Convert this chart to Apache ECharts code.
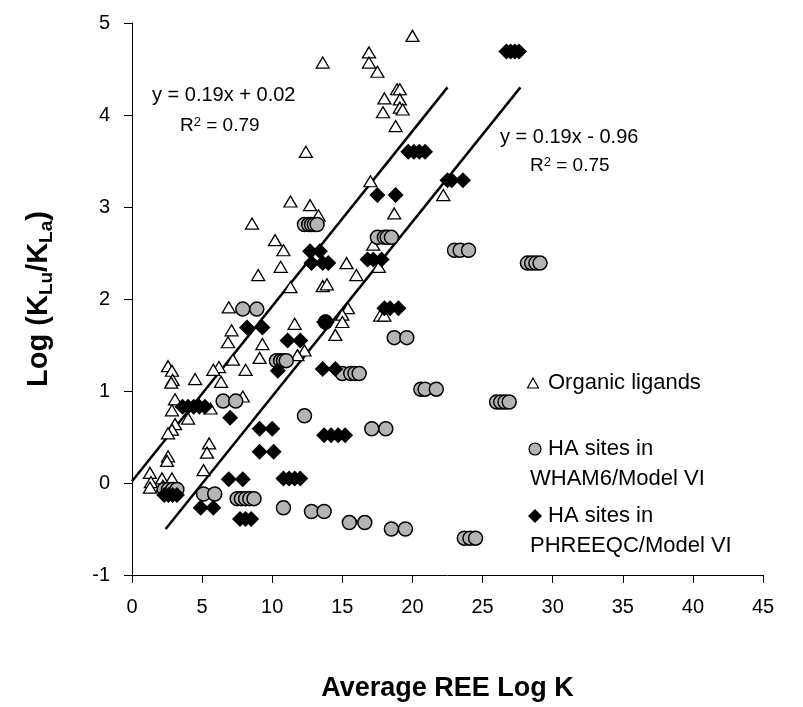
<!DOCTYPE html>
<html><head><meta charset="utf-8">
<script src="https://cdn.jsdelivr.net/npm/echarts@6/dist/echarts.min.js"></script>
<style>html,body{margin:0;padding:0;background:#fff}#c{width:803px;height:707px}</style>
</head><body><div id="c"></div>
<script>
// [Average REE Log K, Log(KLu/KLa)]
const organicLigands = [
  [20.0,4.86],[16.9,4.68],[16.9,4.57],[17.5,4.47],[13.6,4.57],[18.9,4.28],[19.1,4.28],[18.0,4.18],[19.1,4.17],[17.9,4.03],[19.1,4.08],[19.3,4.06],[18.8,3.88],[12.4,3.60],[17.0,3.28],[22.2,3.13],
  [12.7,3.02],[13.3,2.91],[18.7,2.93],[17.2,2.59],[15.3,2.39],[16.0,2.26],[17.6,2.35],[13.6,2.14],[13.9,2.16],[15.4,1.90],[15.0,1.83],[17.7,1.82],[18.0,1.82],[15.0,1.75],[14.5,1.61],[12.3,1.44],
  [11.3,3.06],[8.56,2.82],[10.2,2.64],[10.8,2.53],[10.6,2.35],[9.0,2.26],[11.3,2.13],[6.9,1.91],[7.1,1.66],[6.85,1.53],[9.3,1.51],[11.6,1.73],
  [9.1,1.36],[7.2,1.34],[6.2,1.26],[5.8,1.23],[8.1,1.23],[6.35,1.10],[7.9,0.94],[5.6,0.81],[11.8,1.39],[5.5,0.43],[5.35,0.33],[5.1,0.14],
  [2.57,1.27],[2.85,1.22],[2.9,1.12],[2.8,1.09],[4.5,1.13],[3.07,0.91],[2.85,0.79],[4.0,0.70],[3.07,0.64],[2.85,0.58],[2.57,0.54],[2.57,0.29],[2.5,0.24],[1.28,0.11],[2.14,0.05],[2.85,0.05],[1.35,0.01],[1.28,-0.05],[2.2,-0.03]
];
const whamSites = [
  [2.3,-0.07],[2.6,-0.07],[2.9,-0.07],[3.2,-0.07],[5.1,-0.12],[5.9,-0.12],
  [7.5,-0.17],[7.8,-0.17],[8.1,-0.17],[8.4,-0.17],[8.7,-0.17],[10.8,-0.27],[12.8,-0.31],[13.7,-0.31],
  [15.5,-0.43],[16.6,-0.43],[18.5,-0.50],[19.5,-0.50],[23.7,-0.60],[24.1,-0.60],[24.5,-0.60],
  [6.5,0.89],[7.4,0.89],[12.3,0.73],[17.1,0.59],[18.1,0.59],
  [15.0,1.19],[15.6,1.19],[15.9,1.19],[16.2,1.19],[20.6,1.02],[20.9,1.02],[21.7,1.02],
  [26.0,0.88],[26.3,0.88],[26.6,0.88],[26.9,0.88],[10.3,1.33],[10.6,1.33],[10.8,1.33],[11.0,1.33],
  [18.7,1.58],[19.6,1.58],[13.8,1.75],[7.9,1.89],[8.9,1.89],
  [17.5,2.67],[18.0,2.67],[18.2,2.67],[18.5,2.67],[12.3,2.81],[12.6,2.81],[12.8,2.81],[13.0,2.81],[13.2,2.81],
  [23.0,2.53],[23.4,2.53],[24.0,2.53],[28.2,2.39],[28.5,2.39],[28.8,2.39],[29.1,2.39]
];
const phreeqcSites = [
  [26.7,4.69],[27.0,4.69],[27.3,4.69],[27.6,4.69],[19.7,3.60],[20.1,3.60],[20.5,3.60],[20.9,3.60],
  [17.5,3.13],[18.8,3.13],[22.5,3.29],[22.8,3.29],[23.6,3.29],
  [12.7,2.52],[13.4,2.52],[12.8,2.39],[13.6,2.39],[14.0,2.39],[16.8,2.43],[17.2,2.43],[17.8,2.43],
  [18.0,1.90],[18.4,1.90],[19.0,1.90],[8.2,1.69],[9.3,1.69],[11.1,1.55],[12.0,1.55],[13.7,1.75],[13.9,1.75],
  [10.4,1.22],[13.6,1.24],[14.5,1.24],[3.6,0.83],[4.0,0.83],[4.4,0.83],[4.8,0.83],[5.2,0.83],[7.0,0.71],
  [9.1,0.59],[10.0,0.59],[9.1,0.34],[10.1,0.34],[13.7,0.52],[14.2,0.52],[14.7,0.52],[15.2,0.52],
  [6.9,0.04],[7.9,0.04],[10.8,0.05],[11.2,0.05],[11.6,0.05],[12.0,0.05],
  [2.3,-0.13],[2.6,-0.13],[2.9,-0.13],[3.2,-0.13],[4.9,-0.27],[5.8,-0.27],[7.7,-0.39],[8.1,-0.39],[8.5,-0.39]
];
const fitOrganic = [[0,0.02],[22.5,4.30]];
const fitHA = [[2.4,-0.50],[27.7,4.30]];
const xTicks = [0,45,5];
const yTicks = [-1,5,1];

const FONT = 'Arial, "Liberation Sans", sans-serif';
const chart = echarts.init(document.getElementById('c'), null, {renderer:'canvas'});
const txt = (x,y,t,size,extra)=>Object.assign({type:'text',left:x,top:y,style:Object.assign({text:t,font:size+'px '+FONT,fill:'#000'},extra||{})});
chart.setOption({
  animation:false,
  backgroundColor:'#fff',
  grid:{left:132,right:40,top:23,bottom:127},
  xAxis:{type:'value',min:xTicks[0],max:xTicks[1],interval:xTicks[2],
    axisLine:{onZero:false,lineStyle:{color:'#000',width:1}},axisTick:{inside:false,length:8,lineStyle:{color:'#000'}},
    splitLine:{show:false},axisLabel:{color:'#000',fontSize:20,fontFamily:FONT,margin:22},
    name:'Average REE Log K',nameLocation:'middle',nameGap:100,
    nameTextStyle:{color:'#000',fontSize:27,fontWeight:'bold',fontFamily:FONT}},
  yAxis:{type:'value',min:yTicks[0],max:yTicks[1],interval:yTicks[2],
    axisLine:{show:true,onZero:false,lineStyle:{color:'#000',width:1}},axisTick:{show:true,inside:false,length:8,lineStyle:{color:'#000'}},
    splitLine:{show:false},axisLabel:{color:'#000',fontSize:20,fontFamily:FONT,margin:22},
    name:'{a|Log (K}{s|Lu}{a|/K}{s|La}{a|)}',nameLocation:'middle',nameGap:76,nameRotate:90,
    nameTextStyle:{rich:{
      a:{fontSize:29,fontWeight:'bold',fontFamily:FONT,color:'#000',lineHeight:34},
      s:{fontSize:19,fontWeight:'bold',fontFamily:FONT,color:'#000',verticalAlign:'bottom',lineHeight:15}}}},
  series:[
    {type:'line',data:fitOrganic,symbol:'none',lineStyle:{color:'#000',width:2.5},z:1},
    {type:'line',data:fitHA,symbol:'none',lineStyle:{color:'#000',width:2.5},z:1},
    {type:'scatter',name:'Organic ligands',data:organicLigands,symbol:'triangle',symbolSize:[13,11],
      itemStyle:{color:'#fff',borderColor:'#000',borderWidth:1.3,opacity:1},z:2},
    {type:'scatter',name:'WHAM6',data:whamSites,symbol:'circle',symbolSize:14,
      itemStyle:{color:'#b4b4b4',borderColor:'#000',borderWidth:1.5,opacity:1},z:3},
    {type:'scatter',name:'PHREEQC',data:phreeqcSites,symbol:'diamond',symbolSize:16,
      itemStyle:{color:'#000',borderColor:'#000',borderWidth:0,opacity:1},z:4}
  ],
  graphic:[
    txt(152,85,'y = 0.19x + 0.02',20),
    {type:'text',left:180,top:116,style:{text:'{t|R}{p|2}{t| = 0.79}',rich:{t:{font:'19px '+FONT,fill:'#000',verticalAlign:'bottom'},p:{font:'13px '+FONT,fill:'#000',verticalAlign:'top'}}}},
    txt(500,127,'y = 0.19x - 0.96',20),
    {type:'text',left:530,top:156,style:{text:'{t|R}{p|2}{t| = 0.75}',rich:{t:{font:'19px '+FONT,fill:'#000',verticalAlign:'bottom'},p:{font:'13px '+FONT,fill:'#000',verticalAlign:'top'}}}},
    {type:'polygon',shape:{points:[[533,378],[538.5,388],[527.5,388]]},style:{fill:'#fff',stroke:'#000',lineWidth:1.2}},
    txt(548,372,'Organic ligands',22),
    {type:'circle',shape:{cx:535,cy:449,r:6},style:{fill:'#b4b4b4',stroke:'#000',lineWidth:1.2}},
    txt(548,438,'HA sites in',22),
    txt(530,468,'WHAM6/Model VI',22),
    {type:'polygon',shape:{points:[[535,509],[542,516],[535,523],[528,516]]},style:{fill:'#000'}},
    txt(548,505,'HA sites in',22),
    txt(530,535,'PHREEQC/Model VI',22)
  ]
});
</script></body></html>
